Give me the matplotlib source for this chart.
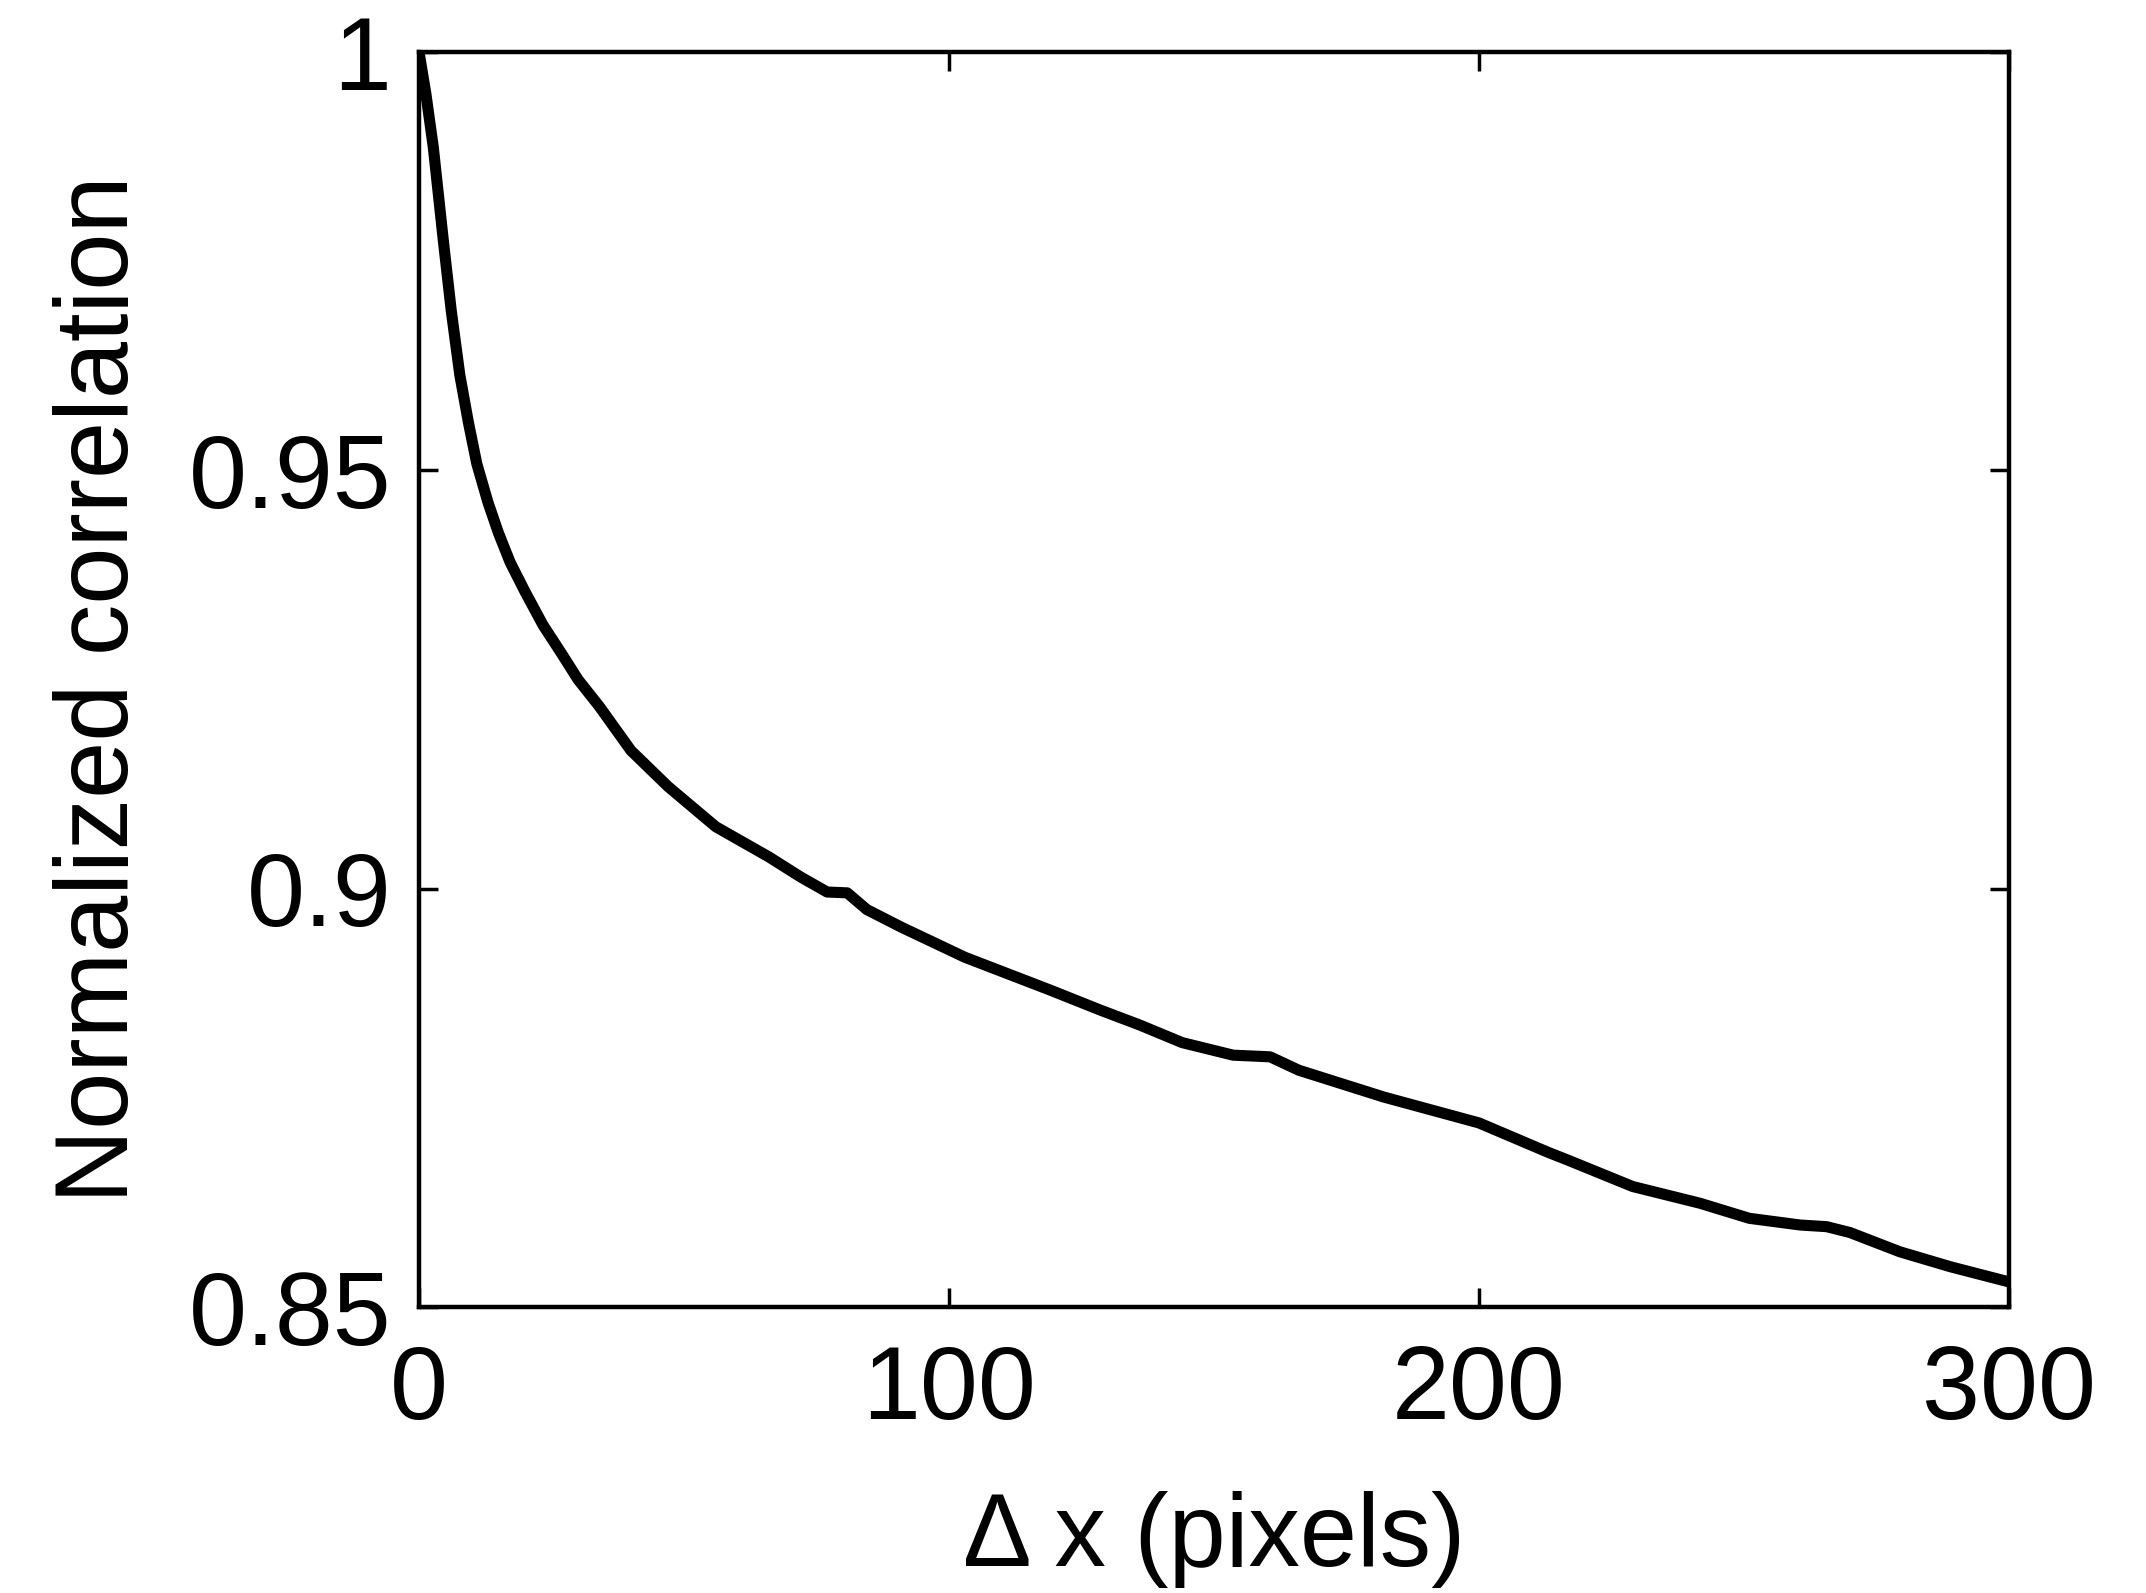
import matplotlib
matplotlib.use("Agg")
import matplotlib.pyplot as plt
from matplotlib.ticker import FixedLocator, FixedFormatter

# Correlation versus horizontal shift
dx = [0, 1.3, 2.7, 4.6, 6.1, 7.7, 9.3, 10.9, 13, 15, 17.2, 20, 23.4, 27, 30,
      34, 40, 47, 56, 66, 72, 77, 80.8, 84.5, 91, 103, 119, 128.5, 136, 144,
      153.6, 160.6, 166, 182, 200, 213, 216.6, 229, 241.7, 251, 260.6, 265.6,
      270, 279.4, 289, 300]
corr = [1.0, 0.995, 0.9886, 0.9774, 0.969, 0.9614, 0.9558, 0.9508, 0.9462,
        0.9425, 0.939, 0.9355, 0.9315, 0.928, 0.925, 0.9218, 0.9165,
        0.9122, 0.9074, 0.9038, 0.9014, 0.8996, 0.8995, 0.8975, 0.8954,
        0.8918, 0.8879, 0.8855, 0.8837, 0.8816, 0.8801, 0.8799, 0.8783,
        0.8751, 0.8720, 0.8685, 0.8676, 0.8644, 0.8624, 0.8606, 0.8598,
        0.8596, 0.8589, 0.8566, 0.8548, 0.8530]

x_ticks = [0, 100, 200, 300]
x_tick_labels = ["0", "100", "200", "300"]
y_ticks = [0.85, 0.9, 0.95, 1.0]
y_tick_labels = ["0.85", "0.9", "0.95", "1"]

plt.rcParams["font.family"] = ["Liberation Sans", "DejaVu Sans"]

fig = plt.figure(figsize=(21.46, 15.93), dpi=100)
ax = fig.add_axes([419 / 2146, 1 - 1307 / 1593, (2009 - 419) / 2146, (1307 - 52) / 1593])

ax.plot(dx, corr, color="black", linewidth=8, solid_capstyle="butt",
        solid_joinstyle="round")

ax.set_xlim(0, 300)
ax.set_ylim(0.85, 1.0)
ax.xaxis.set_major_locator(FixedLocator(x_ticks))
ax.xaxis.set_major_formatter(FixedFormatter(x_tick_labels))
ax.yaxis.set_major_locator(FixedLocator(y_ticks))
ax.yaxis.set_major_formatter(FixedFormatter(y_tick_labels))

ax.tick_params(direction="in", length=14, width=2.5, labelsize=75,
               top=True, right=True, pad=20)
ax.tick_params(axis="x", pad=27)
for s in ax.spines.values():
    s.set_linewidth(3.2)

ax.set_xlabel("Δ x (pixels)", fontsize=74, labelpad=36)
ax.set_ylabel("Normalized correlation", fontsize=74, labelpad=28)
ax.yaxis.label.set_y(0.492)

fig.savefig("out.png", dpi=100)
